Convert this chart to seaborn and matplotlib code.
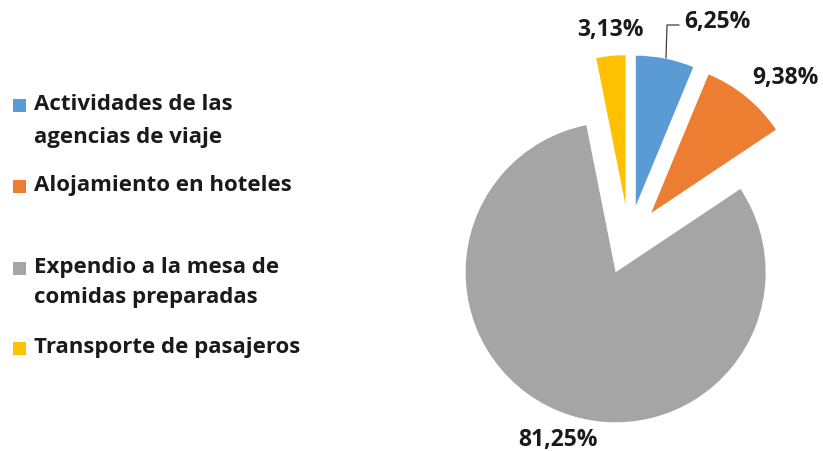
import matplotlib
matplotlib.use("Agg")
import matplotlib.pyplot as plt
from matplotlib.patches import Rectangle
import seaborn as sns

categories = [
    "Actividades de las\nagencias de viaje",
    "Alojamiento en hoteles",
    "Expendio a la mesa de\ncomidas preparadas",
    "Transporte de pasajeros",
]
shares = [6.25, 9.38, 81.25, 3.13]
share_labels = ["6,25%", "9,38%", "81,25%", "3,13%"]
colors = ["#5B9BD5", "#ED7D31", "#A5A5A5", "#FFC000"]

sns.set_theme(style="white")
plt.rcParams["font.family"] = ["Open Sans", "DejaVu Sans"]

W, H = 823, 451
fig = plt.figure(figsize=(W / 100, H / 100), dpi=100)
ax = fig.add_axes([0, 0, 1, 1])

# pie centre in pixels and radius (pixels per data unit)
cx, cy, R = 629, 240, 150

ax.pie(shares, colors=colors, startangle=90, counterclock=False,
       explode=[0.233] * 4, radius=1.0,
       wedgeprops=dict(linewidth=0))
ax.set_xlim(-cx / R, (W - cx) / R)
ax.set_ylim(-(H - cy) / R, cy / R)
ax.set_aspect("equal", adjustable="box")
ax.axis("off")

def px(x, y):
    return (x - cx) / R, (cy - y) / R

label_pos = [px(717, 22), px(785, 78), px(558, 440), px(610, 30)]
for txt, (lx, ly) in zip(share_labels, label_pos):
    ax.text(lx, ly, txt, ha="center", va="center", fontsize=16.5,
            fontweight="bold", color="#1a1a1a")

# leader line for the small blue slice label
lx, ly = zip(px(679, 25), px(667, 25), px(666, 58))
ax.plot(lx, ly, color="#404040", lw=0.9)

# legend
entries = [(105, [104, 137]), (186, [186]), (268, [268, 298]), (348, [348])]
for (sq_y, line_ys), name, col in zip(entries, categories, colors):
    fig.patches.append(Rectangle((13 / W, 1 - (sq_y + 7) / H), 13 / W, 13 / H,
                                 transform=fig.transFigure, color=col, lw=0))
    for ty, line in zip(line_ys, name.split("\n")):
        fig.text(34 / W, 1 - ty / H, line, ha="left", va="center",
                 fontsize=16, fontweight="bold", color="#1a1a1a")

fig.savefig("out.png", dpi=100)
